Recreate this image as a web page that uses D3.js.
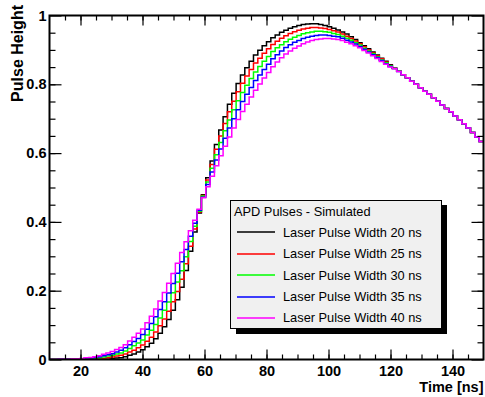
<!DOCTYPE html>
<html>
<head>
<meta charset="utf-8">
<script src="https://cdn.jsdelivr.net/npm/d3@7"></script>
<style>
  body { margin: 0; background: #fff; }
  svg { display: block; font-family: "Liberation Sans", Arial, sans-serif; }
</style>
</head>
<body>
<script>
// histogram binning, time in ns
var histMin = 10, histMax = 150, nBins = 100;

// laser pulse widths (ns) and bin contents for each of them
var laserWidths = [20, 25, 30, 35, 40];

var width20 = [0,0,0,0,0,0,0,0,0,0,
  0,0,0,.001,.002,.004,.005,.008,.012,.016,
  .022,.028,.037,.047,.060,.076,.095,.116,.143,.174,
  .210,.259,.315,.371,.426,.479,.528,.577,.625,.667,
  .706,.742,.774,.802,.827,.848,.867,.885,.899,.912,
  .924,.935,.943,.951,.957,.963,.967,.971,.974,.975,
  .976,.976,.974,.971,.967,.963,.958,.952,.946,.938,
  .930,.921,.912,.903,.894,.885,.876,.867,.857,.847,
  .838,.828,.819,.809,.800,.790,.780,.771,.761,.751,
  .740,.730,.720,.708,.697,.685,.673,.660,.647,.634];

var width25 = [0,0,0,0,0,0,0,.001,.001,.001,
  .002,.003,.003,.005,.007,.010,.012,.016,.022,.027,
  .034,.042,.053,.065,.080,.098,.118,.140,.168,.198,
  .233,.278,.329,.379,.429,.477,.522,.567,.611,.650,
  .686,.720,.751,.778,.803,.824,.843,.862,.876,.890,
  .903,.916,.925,.934,.941,.948,.953,.957,.961,.963,
  .965,.965,.964,.962,.959,.956,.952,.946,.940,.933,
  .926,.918,.909,.900,.891,.883,.874,.865,.855,.847,
  .838,.828,.819,.809,.800,.790,.780,.771,.761,.751,
  .740,.730,.720,.708,.697,.685,.673,.660,.647,.634];

var width30 = [0,0,0,0,0,.001,.001,.001,.002,.003,
  .004,.005,.007,.010,.012,.016,.019,.025,.032,.040,
  .048,.057,.071,.085,.102,.121,.143,.167,.194,.225,
  .258,.299,.343,.387,.431,.475,.516,.556,.595,.631,
  .665,.696,.726,.752,.776,.797,.817,.836,.852,.867,
  .881,.895,.906,.915,.924,.931,.937,.942,.947,.950,
  .952,.954,.954,.953,.951,.948,.945,.940,.934,.928,
  .921,.914,.905,.897,.889,.880,.871,.863,.854,.846,
  .838,.828,.819,.809,.800,.790,.780,.771,.761,.751,
  .740,.730,.720,.708,.697,.685,.673,.660,.647,.634];

var width35 = [0,0,.001,.001,.001,.001,.001,.002,.004,.004,
  .006,.008,.011,.014,.017,.022,.027,.034,.043,.052,
  .061,.073,.088,.105,.124,.145,.168,.193,.221,.251,
  .284,.320,.358,.396,.434,.472,.509,.545,.580,.612,
  .643,.673,.700,.726,.750,.771,.791,.811,.827,.843,
  .858,.874,.886,.897,.907,.915,.922,.927,.933,.937,
  .940,.942,.943,.943,.942,.940,.938,.934,.928,.923,
  .917,.910,.902,.894,.886,.878,.869,.860,.852,.846,
  .837,.828,.819,.809,.800,.790,.780,.771,.761,.751,
  .740,.730,.720,.708,.697,.685,.673,.660,.647,.634];

var width40 = [0,0,.001,.001,.001,.002,.002,.003,.005,.006,
  .008,.011,.015,.019,.023,.029,.035,.043,.054,.065,
  .076,.089,.107,.126,.147,.170,.195,.222,.250,.280,
  .311,.342,.374,.405,.437,.470,.502,.533,.563,.592,
  .620,.647,.673,.698,.721,.742,.763,.783,.801,.818,
  .834,.851,.865,.877,.888,.897,.905,.911,.918,.923,
  .927,.930,.932,.933,.933,.932,.930,.927,.922,.918,
  .912,.906,.898,.891,.883,.875,.866,.858,.850,.845,
  .837,.828,.819,.809,.800,.790,.780,.771,.761,.751,
  .740,.730,.720,.708,.697,.685,.673,.660,.647,.634];

var allSeries = [width20, width25, width30, width35, width40];

// axis ticks and labels
var xTicks = [20, 40, 60, 80, 100, 120, 140];
var yTicks = [0, 0.2, 0.4, 0.6, 0.8, 1];
var yTickLabels = ["0", "0.2", "0.4", "0.6", "0.8", "1"];
var legendHeader = "APD Pulses - Simulated";

// ROOT colours: black, red, green, blue, magenta
var colors = ["#000000", "#ff0000", "#00ff00", "#0000ff", "#ff00ff"];

var W = 485, H = 397;
// frame edges (note: "top" is reserved on window)
var fLeft = 49.5, fRight = 483.5, fTop = 15.5, fBottom = 359.5;

var svg = d3.select("body").append("svg").attr("width", W).attr("height", H);

var x = d3.scaleLinear().domain([histMin, histMax]).range([fLeft, fRight]);
var y = d3.scaleLinear().domain([0, 1]).range([fBottom, fTop]);

// clip for the histograms
svg.append("clipPath").attr("id", "frameClip")
  .append("rect").attr("x", fLeft).attr("y", fTop)
  .attr("width", fRight - fLeft).attr("height", fBottom - fTop);

var binWidth = (histMax - histMin) / nBins;

// step line through bin edges
var stepLine = d3.line()
  .x(function (d) { return x(d[0]); })
  .y(function (d) { return y(d[1]); })
  .curve(d3.curveStepAfter);

var histG = svg.append("g").attr("clip-path", "url(#frameClip)");
allSeries.forEach(function (vals, k) {
  var pts = vals.map(function (v, i) { return [histMin + i * binWidth, v]; });
  pts.push([histMax, vals[vals.length - 1]]);
  histG.append("path")
    .attr("d", stepLine(pts))
    .attr("fill", "none")
    .attr("stroke", colors[k])
    .attr("stroke-width", 1.5);
});

// tick label style
function styleAxis(g) {
  g.select(".domain").remove();
  g.selectAll("line").attr("stroke", "#000").attr("stroke-width", 1.2);
  g.attr("font-family", null).attr("font-size", null);
  g.selectAll("text").attr("font-size", "14.5px").attr("font-weight", "bold").attr("fill", "#000");
}

var xMinor = d3.range(15, histMax, 5);
var yMinor = d3.range(1, 20).map(function (i) { return i / 20; });

// bottom axis
svg.append("g").attr("transform", "translate(0," + fBottom + ")")
  .call(d3.axisBottom(x).tickValues(xMinor).tickSize(-5).tickFormat(""))
  .call(styleAxis);
svg.append("g").attr("transform", "translate(0," + fBottom + ")")
  .call(d3.axisBottom(x).tickValues(xTicks).tickSizeInner(-10).tickSizeOuter(0).tickPadding(6))
  .call(styleAxis);

// top axis (ticks only)
svg.append("g").attr("transform", "translate(0," + fTop + ")")
  .call(d3.axisTop(x).tickValues(xMinor).tickSize(-5).tickFormat(""))
  .call(styleAxis);
svg.append("g").attr("transform", "translate(0," + fTop + ")")
  .call(d3.axisTop(x).tickValues(xTicks).tickSize(-10).tickFormat(""))
  .call(styleAxis);

// left axis
svg.append("g").attr("transform", "translate(" + fLeft + ",0)")
  .call(d3.axisLeft(y).tickValues(yMinor).tickSize(-6).tickFormat(""))
  .call(styleAxis);
svg.append("g").attr("transform", "translate(" + fLeft + ",0)")
  .call(d3.axisLeft(y).tickValues(yTicks).tickSizeInner(-12).tickSizeOuter(0).tickPadding(3)
    .tickFormat(function (d, i) { return yTickLabels[i]; }))
  .call(styleAxis);

// right axis (ticks only)
svg.append("g").attr("transform", "translate(" + fRight + ",0)")
  .call(d3.axisRight(y).tickValues(yMinor).tickSize(-6).tickFormat(""))
  .call(styleAxis);
svg.append("g").attr("transform", "translate(" + fRight + ",0)")
  .call(d3.axisRight(y).tickValues(yTicks).tickSize(-12).tickFormat(""))
  .call(styleAxis);

// frame
svg.append("rect")
  .attr("x", fLeft).attr("y", fTop)
  .attr("width", fRight - fLeft).attr("height", fBottom - fTop)
  .attr("fill", "none").attr("stroke", "#000").attr("stroke-width", 2);

// axis titles
svg.append("text")
  .attr("x", fRight).attr("y", 392)
  .attr("text-anchor", "end")
  .attr("font-size", "14.5px").attr("font-weight", "bold")
  .text("Time [ns]");

svg.append("text")
  .attr("transform", "translate(22.5,5) rotate(-90)")
  .attr("text-anchor", "end")
  .attr("font-size", "16px").attr("font-weight", "bold")
  .text("Pulse Height");

// legend with drop shadow
var lg = svg.append("g");
lg.append("rect").attr("x", 236).attr("y", 205).attr("width", 211).attr("height", 129).attr("fill", "#000");
lg.append("rect").attr("x", 230.5).attr("y", 200.5).attr("width", 211).attr("height", 128)
  .attr("fill", "#f0f0f0").attr("stroke", "#000").attr("stroke-width", 1);
lg.append("text").attr("x", 234).attr("y", 216).attr("font-size", "12.8px").text(legendHeader);

laserWidths.forEach(function (w, i) {
  var base = 236.7 + i * 21.4;
  var ly = Math.round(base - 4.4);
  lg.append("line")
    .attr("x1", 237).attr("x2", 275)
    .attr("y1", ly).attr("y2", ly)
    .attr("stroke", colors[i]).attr("stroke-width", 1.5);
  lg.append("text")
    .attr("x", 283).attr("y", base)
    .attr("font-size", "12.8px")
    .text("Laser Pulse Width " + w + " ns");
});
</script>
</body>
</html>
